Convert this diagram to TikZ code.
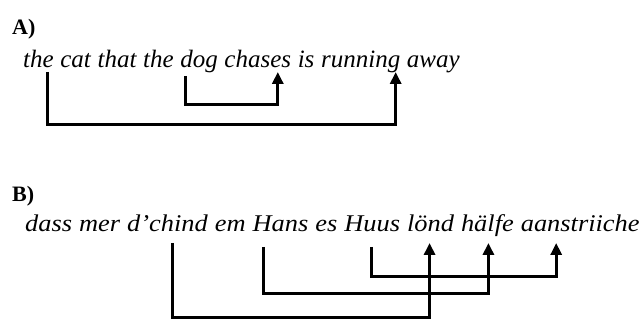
\documentclass[tikz,border=0pt]{standalone}
\usepackage{fontspec}
\setmainfont{Liberation Serif}
\newfontfamily\wideserif[FakeStretch=1.1]{Liberation Serif}
\usetikzlibrary{positioning,arrows.meta}
\begin{document}
\begin{tikzpicture}
	[x=1pt, y=1pt, node distance=6.25pt,
	word/.style ={inner sep = 0pt, font = \fontsize{25}{28}\selectfont\itshape},
	wideword/.style ={inner sep = 0pt, font = \wideserif\fontsize{24}{28}\selectfont\itshape},
	tag/.style ={inner sep = 0pt, anchor = base west, font = \fontsize{22}{24}\selectfont\bfseries},
	link/.style ={line width = 3pt, -{Triangle[length=12pt, width=11pt]}}]
	\useasboundingbox (0,0) rectangle (643,320);
	% A)
	\node[tag] (A) at (12,285) {A)};
	\node[word, anchor = base west] (the1) at (23,252) {the};
	\node[word, base right = of the1] (cat) {cat};
	\node[word, base right = of cat] (that) {that};
	\node[word, base right = of that] (the2) {the};
	\node[word, base right = of the2] (dog) {dog};
	\node[word, base right = of dog] (chases) {chases};
	\node[word, base right = of chases] (is) {is};
	\node[word, base right = of is] (running) {running};
	\node[word, base right = of running] (away) {away};
	\draw[link] ([xshift=9, yshift=-4]the1.base) -- ++(0,-53) -| ([xshift=35, yshift=-4]running.base);
	\draw[link] ([xshift=-14, yshift=-8]dog.base) -- ++(0,-29) -| ([xshift=20, yshift=-4]chases.base);
	% B)
	\begin{scope}[node distance=6.6pt]
	\node[tag] (B) at (12,118) {B)};
	\node[wideword, anchor = base west] (dass) at (25,88) {dass};
	\node[wideword, base right = of dass] (mer) {mer};
	\node[wideword, base right = of mer] (chind) {d’chind};
	\node[wideword, base right = of chind] (em) {em};
	\node[wideword, base right = of em] (hans) {Hans};
	\node[wideword, base right = of hans] (es) {es};
	\node[wideword, base right = of es] (huus) {Huus};
	\node[wideword, base right = of huus] (loend) {lönd};
	\node[wideword, base right = of loend] (haelfe) {hälfe};
	\node[wideword, base right = of haelfe] (aanstriiche) {aanstriiche};
	\end{scope}
	\draw[link] ([xshift=5, yshift=-11]chind.base) -- ++(0,-75) -| ([xshift=-1, yshift=-11]loend.base);
	\draw[link] ([xshift=-17, yshift=-15]hans.base) -- ++(0,-47) -| ([xshift=1, yshift=-11]haelfe.base);
	\draw[link] ([xshift=-1, yshift=-15]huus.base) -- ++(0,-30) -| ([xshift=-24, yshift=-11]aanstriiche.base);
\end{tikzpicture}
\end{document}
